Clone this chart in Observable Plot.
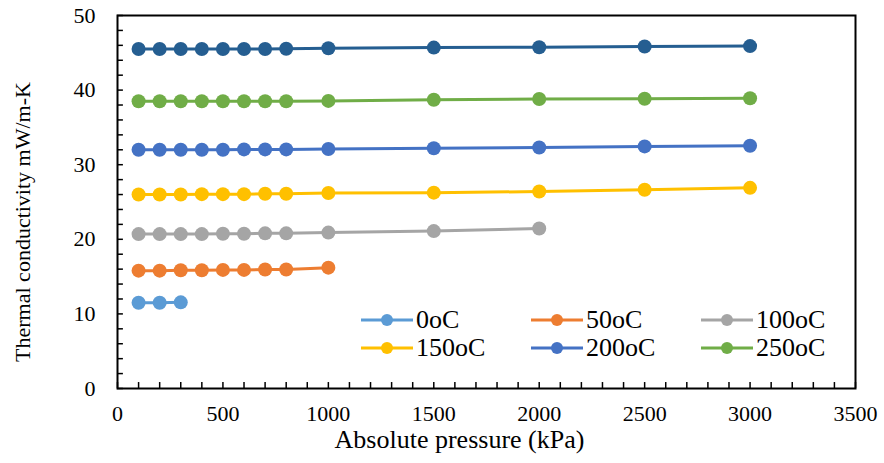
<!DOCTYPE html>
<html>
<head>
<meta charset="utf-8">
<script src="https://cdn.jsdelivr.net/npm/d3@7"></script>
<script src="https://cdn.jsdelivr.net/npm/@observablehq/plot@0.6"></script>
<style>
  html, body { margin: 0; padding: 0; background: #fff; }
  #wrap { position: relative; width: 884px; height: 463px; font-family: 'Liberation Serif', 'Times New Roman', serif; }
  #wrap svg text { font-family: 'Liberation Serif', 'Times New Roman', serif; }
  .leg { position: absolute; display: flex; align-items: center; font-size: 26px; color: #000; line-height: 1; white-space: nowrap; }
  .leg svg { display: block; margin-right: 3px; }
</style>
</head>
<body>
<div id="wrap"></div>
<script>
// ---- data ----
const pressures = [100, 200, 300, 400, 500, 600, 700, 800, 1000, 1500, 2000, 2500, 3000];
const seriesNames = ["0oC", "50oC", "100oC", "150oC", "200oC", "250oC", "300oC"];
const seriesColors = ["#5B9BD5", "#ED7D31", "#A5A5A5", "#FFC000", "#4472C4", "#70AD47", "#255E91"];
const inLegend = [true, true, true, true, true, true, false];
const k0   = [11.5, 11.5, 11.55];
const k50  = [15.8, 15.8, 15.85, 15.85, 15.9, 15.9, 15.95, 15.95, 16.2];
const k100 = [20.7, 20.7, 20.7, 20.7, 20.75, 20.75, 20.8, 20.8, 20.9, 21.1, 21.45];
const k150 = [26.0, 26.0, 26.0, 26.05, 26.05, 26.05, 26.1, 26.1, 26.2, 26.25, 26.4, 26.65, 26.9];
const k200 = [32.0, 32.0, 32.0, 32.0, 32.0, 32.05, 32.05, 32.05, 32.1, 32.2, 32.3, 32.45, 32.55];
const k250 = [38.5, 38.5, 38.5, 38.5, 38.5, 38.5, 38.5, 38.5, 38.55, 38.7, 38.8, 38.85, 38.9];
const k300 = [45.5, 45.5, 45.5, 45.5, 45.5, 45.5, 45.5, 45.55, 45.6, 45.7, 45.75, 45.85, 45.9];
const seriesValues = [k0, k50, k100, k150, k200, k250, k300];
const xTicks = [0, 500, 1000, 1500, 2000, 2500, 3000, 3500];
const yTicks = [0, 10, 20, 30, 40, 50];
const xMinorTicks = d3.range(0, 3501, 100);
const yMinorTicks = d3.range(0, 51, 2);
const xTitle = "Absolute pressure (kPa)";
const yTitle = "Thermal conductivity mW/m-K";

const data = seriesValues.flatMap((vals, s) =>
  vals.map((v, i) => ({series: seriesNames[s], p: pressures[i], k: v})));

const font = "'Liberation Serif', 'Times New Roman', serif";

const chart = Plot.plot({
  width: 884,
  height: 463,
  marginLeft: 117,
  marginRight: 29,
  marginTop: 15,
  marginBottom: 75,
  style: {fontFamily: font, fontSize: "22px", color: "#000", background: "#fff", overflow: "visible"},
  x: {domain: [0, 3500]},
  y: {domain: [0, 50]},
  color: {domain: seriesNames, range: seriesColors},
  marks: [
    Plot.ruleX(xMinorTicks, {x: d => d, y1: 0, y2: 0.8, stroke: "#000", strokeWidth: 1.5}),
    Plot.ruleY(yMinorTicks, {y: d => d, x1: 0, x2: 28, stroke: "#000", strokeWidth: 1.5}),
    Plot.frame({stroke: "#000", strokeWidth: 2}),
    Plot.axisX({ticks: xTicks, tickSize: 0, tickPadding: 17, tickFormat: d => String(d), label: null, fontSize: 22, fontFamily: font, fill: "#000"}),
    Plot.axisY({ticks: yTicks, tickSize: 0, tickPadding: 22, tickFormat: d => String(d), label: null, fontSize: 22, fontFamily: font, fill: "#000"}),
    Plot.text([xTitle], {text: d => d, frameAnchor: "bottom", dx: -27, dy: 59, fontSize: 26, fontFamily: font, fill: "#000"}),
    Plot.text([yTitle], {text: d => d, frameAnchor: "left", textAnchor: "middle", dx: -95, dy: 20, rotate: -90, fontSize: 22, fontFamily: font, fill: "#000"}),
    Plot.line(data, {x: "p", y: "k", z: "series", stroke: "series", strokeWidth: 3}),
    Plot.dot(data, {x: "p", y: "k", fill: "series", r: 7})
  ]
});

const wrap = document.getElementById("wrap");
wrap.appendChild(chart);

// legend (inside plot area, 2 rows x 3 columns)
const legCols = [361, 531, 701];
const legRows = [320, 348];
let idx = 0;
seriesNames.forEach((name, s) => {
  if (!inLegend[s]) return;
  const col = idx % 3, row = Math.floor(idx / 3);
  idx++;
  const item = document.createElement("div");
  item.className = "leg";
  item.style.left = legCols[col] + "px";
  item.style.top = (legRows[row] - 14) + "px";
  item.style.height = "28px";
  const svg = d3.create("svg").attr("width", 52).attr("height", 14);
  svg.append("line").attr("x1", 0).attr("x2", 52).attr("y1", 7).attr("y2", 7)
    .attr("stroke", seriesColors[s]).attr("stroke-width", 3);
  svg.append("circle").attr("cx", 26).attr("cy", 7).attr("r", 6).attr("fill", seriesColors[s]);
  item.appendChild(svg.node());
  const span = document.createElement("span");
  span.textContent = name;
  item.appendChild(span);
  wrap.appendChild(item);
});
</script>
</body>
</html>
